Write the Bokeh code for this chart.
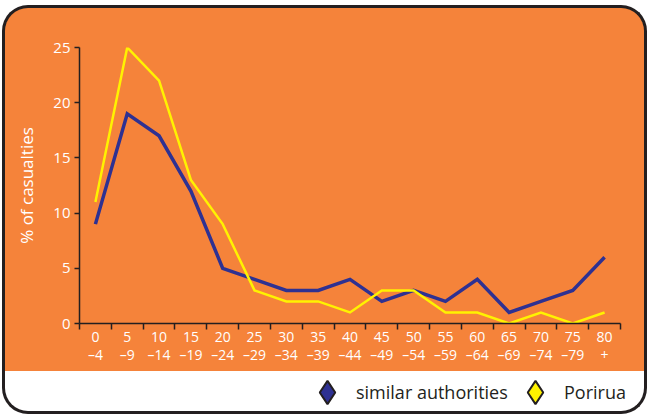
from bokeh.plotting import figure
from bokeh.layouts import column, row
from bokeh.models import (ColumnDataSource, FixedTicker, Legend, LegendItem, Range1d)
from bokeh.embed import file_html
from bokeh.resources import INLINE

# ---- data ----
age_groups = ["0\n–4", "5\n–9", "10\n–14", "15\n–19", "20\n–24", "25\n–29",
              "30\n–34", "35\n–39", "40\n–44", "45\n–49", "50\n–54", "55\n–59",
              "60\n–64", "65\n–69", "70\n–74", "75\n–79", "80\n+"]
similar_authorities = [9, 19, 17, 12, 5, 4, 3, 3, 4, 2, 3, 2, 4, 1, 2, 3, 6]
porirua = [11, 25, 22, 13, 9, 3, 2, 2, 1, 3, 3, 1, 1, 0, 1, 0, 1]
y_ticks = [0, 5, 10, 15, 20, 25]
series_names = ["similar authorities", "Porirua"]

# ---- styles ----
ORANGE = "#f5833a"
BLUE = "#2e3192"
YELLOW = "#fff200"
DARK = "#231f20"
FONT = "Open Sans"
B = "3px solid " + DARK

n = len(age_groups)
centers = [i + 0.5 for i in range(n)]
source = ColumnDataSource(dict(x=centers, similar=similar_authorities, porirua=porirua))

W, H1, H2 = 645, 366, 43
p = figure(width=W, height=H1, x_range=Range1d(0, n), y_range=Range1d(0, 25),
           output_backend="svg", toolbar_location=None,
           min_border_left=74, min_border_right=30, min_border_top=39,
           min_border_bottom=51)
p.background_fill_alpha = 0
p.border_fill_alpha = 0
p.outline_line_color = None
p.grid.visible = False
p.styles = {"border-top": B, "border-left": B, "border-right": B,
            "border-radius": "26px 26px 0 0", "overflow": "hidden",
            "background": ORANGE, "margin-left": "2px", "margin-top": "5px"}

# x axis: boundary ticks as minor ticks, labels at centres
xa = p.xaxis[0]
xa.ticker = FixedTicker(ticks=centers, minor_ticks=list(range(n + 1)))
xa.major_label_overrides = {c: lab for c, lab in zip(centers, age_groups)}
xa.major_tick_line_color = None
xa.major_tick_out = 0
xa.major_tick_in = 0
xa.minor_tick_line_color = DARK
xa.minor_tick_line_width = 1.5
xa.minor_tick_out = 6
xa.minor_tick_in = 0
xa.axis_line_color = DARK
xa.axis_line_width = 1.5
xa.major_label_standoff = -3
xa.major_label_text_color = "white"
xa.major_label_text_font = FONT
xa.major_label_text_font_size = "14px"
xa.major_label_text_line_height = 0.95

ya = p.yaxis[0]
ya.ticker = FixedTicker(ticks=y_ticks, minor_ticks=[])
ya.major_tick_line_color = DARK
ya.major_tick_line_width = 1.5
ya.major_tick_out = 5
ya.major_tick_in = 0
ya.minor_tick_line_color = None
ya.axis_line_color = DARK
ya.axis_line_width = 1.5
ya.major_label_standoff = 4
ya.major_label_text_color = "white"
ya.major_label_text_font = FONT
ya.major_label_text_font_size = "15px"
ya.axis_label = "% of casualties"
ya.axis_label_text_color = "white"
ya.axis_label_text_font = FONT
ya.axis_label_text_font_style = "normal"
ya.axis_label_text_font_size = "17px"
ya.axis_label_standoff = 12

# series
p.line("x", "similar", source=source, line_color=BLUE, line_width=3.5, line_join="miter")
p.line("x", "porirua", source=source, line_color=YELLOW, line_width=2.5, line_join="miter")

# legend strip
q = figure(width=W, height=H2, output_backend="svg", toolbar_location=None,
           x_axis_location=None, y_axis_location=None,
           x_range=Range1d(0, n), y_range=Range1d(0, 25),
           min_border=0, min_border_left=0, min_border_right=0,
           min_border_top=0, min_border_bottom=0)
q.background_fill_alpha = 0
q.border_fill_alpha = 0
q.outline_line_color = None
q.grid.visible = False
q.styles = {"border-bottom": B, "border-left": B, "border-right": B,
            "border-radius": "0 0 26px 26px", "overflow": "hidden",
            "background": "white", "margin-left": "2px"}
# legend proxies (hidden renderers of the same series)
r_sim = q.scatter("x", "similar", source=source, marker="diamond",
                  fill_color=BLUE, line_color=DARK, line_width=2, visible=False)
r_por = q.scatter("x", "porirua", source=source, marker="diamond",
                  fill_color=YELLOW, line_color=DARK, line_width=2, visible=False)
common = dict(orientation="horizontal", glyph_width=58, glyph_height=58,
              label_standoff=-8, padding=0, margin=0, border_line_color=None,
              background_fill_alpha=0, inactive_fill_alpha=0,
              label_text_font=FONT, label_text_font_size="18px",
              label_text_color=DARK)
q.add_layout(Legend(items=[LegendItem(label=series_names[0], renderers=[r_sim])],
                    location=(293, -7), **common))
q.add_layout(Legend(items=[LegendItem(label=series_names[1], renderers=[r_por])],
                    location=(501, -7), **common))

layout = column(p, row(q), spacing=0)
open("out.html", "w").write(file_html(layout, INLINE))
